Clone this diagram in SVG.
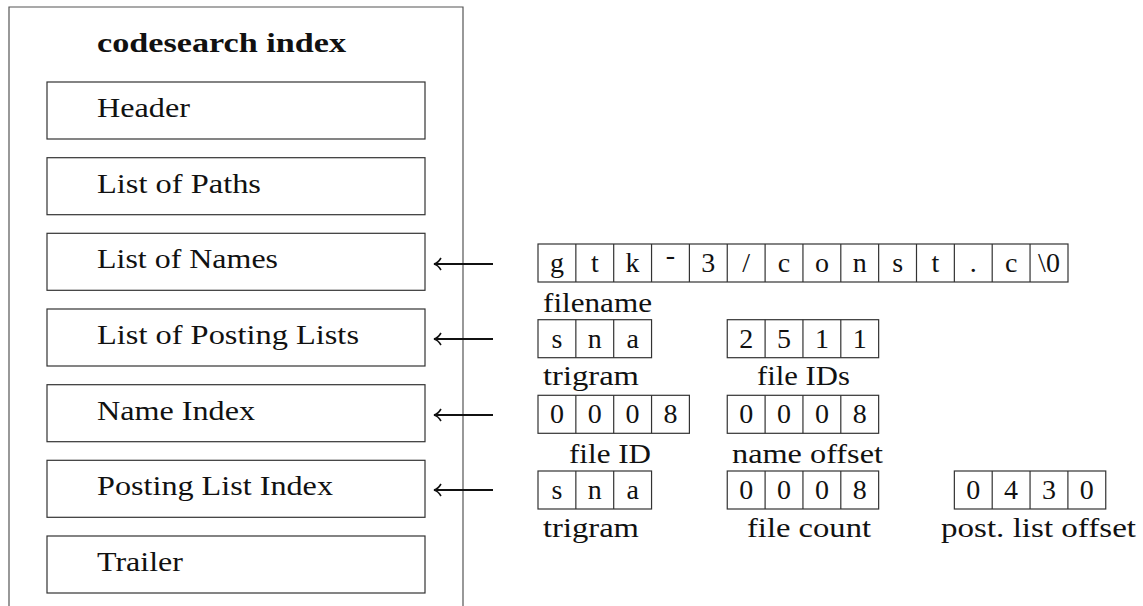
<svg xmlns="http://www.w3.org/2000/svg" width="1143" height="606" viewBox="0 0 1143 606">
<style>
text{font-family:"Liberation Serif","Times New Roman",serif;font-size:28px;fill:#111}
.t{font-weight:bold}
.box{fill:#fff;stroke:#333;stroke-width:1.2}
.cell{fill:none;stroke:#333;stroke-width:1.2}
.c{text-anchor:middle}
.arr{stroke:#111;stroke-width:1.8;fill:none}
</style>
<defs>
<marker id="ah" markerWidth="14" markerHeight="14" refX="13" refY="7" orient="auto" markerUnits="userSpaceOnUse">
<path d="M6,1 Q9,6 13,7 Q9,8 6,13" fill="none" stroke="#111" stroke-width="1.6"/>
</marker>
</defs>
<g id="index">
<path d="M9,612 V7 H463 V612" fill="none" stroke="#555" stroke-width="1.2"/>
<text class="t" x="97" y="52" textLength="249" lengthAdjust="spacingAndGlyphs">codesearch index</text>
</g>
<g id="header"><rect class="box" x="47" y="82" width="378" height="57"/><text x="97" y="117" textLength="93" lengthAdjust="spacingAndGlyphs">Header</text></g>
<g id="paths"><rect class="box" x="47" y="157.7" width="378" height="57"/><text x="97" y="193" textLength="164" lengthAdjust="spacingAndGlyphs">List of Paths</text></g>
<g id="names"><rect class="box" x="47" y="233.3" width="378" height="57"/><text x="97" y="268" textLength="181" lengthAdjust="spacingAndGlyphs">List of Names</text></g>
<g id="postings"><rect class="box" x="47" y="309" width="378" height="57"/><text x="97" y="344" textLength="262" lengthAdjust="spacingAndGlyphs">List of Posting Lists</text></g>
<g id="nameindex"><rect class="box" x="47" y="384.7" width="378" height="57"/><text x="97" y="420" textLength="158" lengthAdjust="spacingAndGlyphs">Name Index</text></g>
<g id="postindex"><rect class="box" x="47" y="460.3" width="378" height="57"/><text x="97" y="495" textLength="236" lengthAdjust="spacingAndGlyphs">Posting List Index</text></g>
<g id="trailer"><rect class="box" x="47" y="536" width="378" height="57"/><text x="97" y="571" textLength="86" lengthAdjust="spacingAndGlyphs">Trailer</text></g>
<g id="connectors">
<line class="arr" x1="493" y1="264" x2="434" y2="264" marker-end="url(#ah)"/>
<line class="arr" x1="493" y1="339" x2="434" y2="339" marker-end="url(#ah)"/>
<line class="arr" x1="493" y1="415" x2="434" y2="415" marker-end="url(#ah)"/>
<line class="arr" x1="493" y1="490" x2="434" y2="490" marker-end="url(#ah)"/>
</g>
<g id="filename-row">
<rect class="cell" x="538" y="244" width="530" height="38"/>
<path class="cell" d="M575.85,244V282M613.7,244V282M651.55,244V282M689.4,244V282M727.25,244V282M765.1,244V282M802.95,244V282M840.8,244V282M878.65,244V282M916.5,244V282M954.35,244V282M992.2,244V282M1030.05,244V282"/>
<text class="c" x="556.9" y="272">g</text>
<text class="c" x="594.8" y="272">t</text>
<text class="c" x="632.6" y="272">k</text>
<text class="c" x="670.5" y="264">-</text>
<text class="c" x="708.3" y="272">3</text>
<text class="c" x="746.2" y="272">/</text>
<text class="c" x="784" y="272">c</text>
<text class="c" x="821.9" y="272">o</text>
<text class="c" x="859.7" y="272">n</text>
<text class="c" x="897.6" y="272">s</text>
<text class="c" x="935.4" y="272">t</text>
<text class="c" x="973.3" y="272">.</text>
<text class="c" x="1011.1" y="272">c</text>
<text class="c" x="1049" y="272">\0</text>
<text x="543" y="312" textLength="109" lengthAdjust="spacingAndGlyphs">filename</text>
</g>
<g id="posting-row">
<rect class="cell" x="538" y="319.7" width="113.55" height="38"/>
<path class="cell" d="M575.85,319.7V357.7M613.7,319.7V357.7"/>
<text class="c" x="556.9" y="347.5">s</text>
<text class="c" x="594.8" y="347.5">n</text>
<text class="c" x="632.6" y="347.5">a</text>
<text x="543" y="385" textLength="96" lengthAdjust="spacingAndGlyphs">trigram</text>
<rect class="cell" x="727.25" y="319.7" width="151.4" height="38"/>
<path class="cell" d="M765.1,319.7V357.7M802.95,319.7V357.7M840.8,319.7V357.7"/>
<text class="c" x="746.2" y="347.5">2</text>
<text class="c" x="784" y="347.5">5</text>
<text class="c" x="821.9" y="347.5">1</text>
<text class="c" x="859.7" y="347.5">1</text>
<text class="c" x="803.5" y="385" textLength="93" lengthAdjust="spacingAndGlyphs">file IDs</text>
</g>
<g id="nameindex-row">
<rect class="cell" x="538" y="395.3" width="151.4" height="38"/>
<path class="cell" d="M575.85,395.3V433.3M613.7,395.3V433.3M651.55,395.3V433.3"/>
<text class="c" x="556.9" y="423">0</text>
<text class="c" x="594.8" y="423">0</text>
<text class="c" x="632.6" y="423">0</text>
<text class="c" x="670.5" y="423">8</text>
<text class="c" x="610" y="463" textLength="82" lengthAdjust="spacingAndGlyphs">file ID</text>
<rect class="cell" x="727.25" y="395.3" width="151.4" height="38"/>
<path class="cell" d="M765.1,395.3V433.3M802.95,395.3V433.3M840.8,395.3V433.3"/>
<text class="c" x="746.2" y="423">0</text>
<text class="c" x="784" y="423">0</text>
<text class="c" x="821.9" y="423">0</text>
<text class="c" x="859.7" y="423">8</text>
<text class="c" x="807.5" y="463" textLength="151" lengthAdjust="spacingAndGlyphs">name offset</text>
</g>
<g id="postindex-row">
<rect class="cell" x="538" y="471" width="113.55" height="38"/>
<path class="cell" d="M575.85,471V509M613.7,471V509"/>
<text class="c" x="556.9" y="499">s</text>
<text class="c" x="594.8" y="499">n</text>
<text class="c" x="632.6" y="499">a</text>
<text x="543" y="537" textLength="96" lengthAdjust="spacingAndGlyphs">trigram</text>
<rect class="cell" x="727.25" y="471" width="151.4" height="38"/>
<path class="cell" d="M765.1,471V509M802.95,471V509M840.8,471V509"/>
<text class="c" x="746.2" y="499">0</text>
<text class="c" x="784" y="499">0</text>
<text class="c" x="821.9" y="499">0</text>
<text class="c" x="859.7" y="499">8</text>
<text class="c" x="809" y="537" textLength="124" lengthAdjust="spacingAndGlyphs">file count</text>
<rect class="cell" x="954.35" y="471" width="151.4" height="38"/>
<path class="cell" d="M992.2,471V509M1030.05,471V509M1067.9,471V509"/>
<text class="c" x="973.3" y="499">0</text>
<text class="c" x="1011.1" y="499">4</text>
<text class="c" x="1049" y="499">3</text>
<text class="c" x="1086.8" y="499">0</text>
<text class="c" x="1038.5" y="537" textLength="195" lengthAdjust="spacingAndGlyphs">post. list offset</text>
</g>
</svg>
